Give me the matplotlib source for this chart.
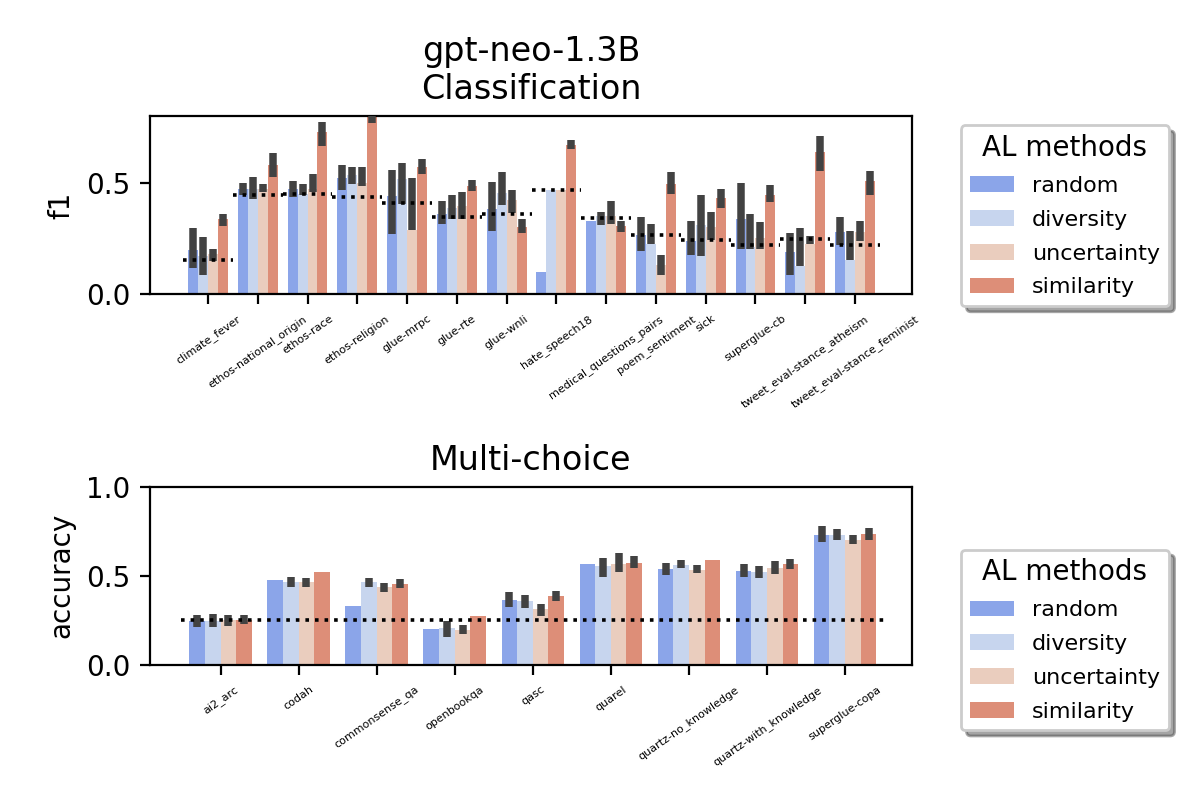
import numpy as np
import matplotlib
matplotlib.use("Agg")
import matplotlib.pyplot as plt
import seaborn as sns

methods = ["random", "diversity", "uncertainty", "similarity"]

cls_tasks = ["climate_fever", "ethos-national_origin", "ethos-race", "ethos-religion",
             "glue-mrpc", "glue-rte", "glue-wnli", "hate_speech18",
             "medical_questions_pairs", "poem_sentiment", "sick", "superglue-cb",
             "tweet_eval-stance_atheism", "tweet_eval-stance_feminist"]

# mean f1 per method
cls_random = [0.196, 0.473, 0.473, 0.522, 0.442, 0.360, 0.383, 0.098, 0.326, 0.263, 0.238, 0.335, 0.190, 0.280]
cls_diversity = [0.170, 0.470, 0.451, 0.536, 0.516, 0.387, 0.454, 0.469, 0.350, 0.226, 0.308, 0.210, 0.127, 0.155]
cls_uncertainty = [0.179, 0.473, 0.470, 0.500, 0.286, 0.397, 0.424, 0.469, 0.350, 0.129, 0.302, 0.251, 0.226, 0.278]
cls_similarity = [0.335, 0.580, 0.728, 0.800, 0.571, 0.487, 0.301, 0.670, 0.305, 0.496, 0.433, 0.446, 0.640, 0.506]

# confidence interval bounds (nan = none drawn)
nan = np.nan
cls_random_lo = [0.119, 0.446, 0.436, 0.467, 0.270, 0.315, 0.284, nan, nan, 0.193, 0.176, 0.204, 0.086, 0.219]
cls_random_hi = [0.298, 0.499, 0.507, 0.579, 0.558, 0.420, 0.503, nan, nan, 0.347, 0.330, 0.499, 0.275, 0.345]
cls_diversity_lo = [0.086, 0.427, 0.443, 0.494, 0.405, 0.338, 0.399, nan, 0.310, 0.226, 0.171, 0.204, 0.127, 0.155]
cls_diversity_hi = [0.258, 0.525, 0.494, 0.570, 0.588, 0.445, 0.548, nan, 0.369, 0.315, 0.445, 0.360, 0.295, 0.283]
cls_uncertainty_lo = [0.149, 0.458, 0.458, 0.485, 0.286, 0.339, 0.363, nan, 0.315, 0.086, 0.241, 0.204, 0.226, 0.238]
cls_uncertainty_hi = [0.204, 0.494, 0.539, 0.570, 0.521, 0.458, 0.467, nan, 0.420, 0.177, 0.369, 0.324, 0.260, 0.329]
cls_similarity_lo = [0.305, 0.524, 0.667, 0.770, 0.539, 0.464, 0.275, 0.650, 0.278, 0.449, 0.385, 0.414, 0.551, 0.443]
cls_similarity_hi = [0.360, 0.633, 0.775, 0.840, 0.607, 0.512, 0.338, 0.692, 0.330, 0.548, 0.472, 0.490, 0.708, 0.552]

cls_baseline = [0.153, 0.443, 0.448, 0.438, 0.408, 0.345, 0.359, 0.469, 0.341, 0.265, 0.242, 0.220, 0.247, 0.220]

mc_tasks = ["ai2_arc", "codah", "commonsense_qa", "openbookqa", "qasc", "quarel",
            "quartz-no_knowledge", "quartz-with_knowledge", "superglue-copa"]

mc_random = [0.247, 0.478, 0.331, 0.202, 0.365, 0.567, 0.539, 0.528, 0.730]
mc_diversity = [0.247, 0.466, 0.466, 0.208, 0.360, 0.556, 0.562, 0.522, 0.730]
mc_uncertainty = [0.250, 0.466, 0.438, 0.197, 0.315, 0.567, 0.534, 0.545, 0.702]
mc_similarity = [0.253, 0.522, 0.455, 0.272, 0.388, 0.573, 0.590, 0.567, 0.736]

mc_random_lo = [0.212, nan, nan, nan, 0.328, nan, 0.502, 0.492, 0.689]
mc_random_hi = [0.279, nan, nan, nan, 0.408, nan, 0.571, 0.565, 0.779]
mc_diversity_lo = [0.215, 0.440, 0.440, 0.159, 0.322, 0.492, 0.543, 0.487, 0.700]
mc_diversity_hi = [0.285, 0.493, 0.490, 0.247, 0.393, 0.599, 0.588, 0.556, 0.762]
mc_uncertainty_lo = [0.220, 0.440, 0.412, 0.172, 0.277, 0.524, 0.515, 0.509, 0.678]
mc_uncertainty_hi = [0.279, 0.487, 0.459, 0.223, 0.343, 0.627, 0.560, 0.584, 0.729]
mc_similarity_lo = [0.230, nan, 0.434, nan, 0.361, 0.543, nan, 0.537, 0.700]
mc_similarity_hi = [0.279, nan, 0.483, nan, 0.416, 0.610, nan, 0.594, 0.768]

mc_chance = 0.25

colors = [sns.desaturate(c, 0.75) for c in sns.color_palette("coolwarm", 4)]


def grouped_bars(ax, tasks, means, los, his):
    x = np.arange(len(tasks))
    w = 0.8 / len(means)
    for k, (m, lo, hi) in enumerate(zip(means, los, his)):
        m = np.array(m)
        pos = x - 0.4 + w * (k + 0.5)
        ax.bar(pos, m, width=w, color=colors[k], label=methods[k])
        lo = np.array(lo)
        hi = np.array(hi)
        ok = ~np.isnan(lo)
        mid = (lo[ok] + hi[ok]) / 2
        ax.errorbar(pos[ok], mid, yerr=(hi[ok] - lo[ok]) / 2, fmt="none",
                    ecolor="#424242", elinewidth=2.7, capsize=0, zorder=3)
    ax.set_xticks(x)
    ax.set_xticklabels(tasks, rotation=35, fontsize=4, ha="center")
    return x


fig = plt.figure(figsize=(6, 4), dpi=200)

ax1 = fig.add_axes([0.125, 0.6325, 0.6348, 0.2225])
x = grouped_bars(ax1, cls_tasks,
                 [cls_random, cls_diversity, cls_uncertainty, cls_similarity],
                 [cls_random_lo, cls_diversity_lo, cls_uncertainty_lo, cls_similarity_lo],
                 [cls_random_hi, cls_diversity_hi, cls_uncertainty_hi, cls_similarity_hi])
for i, b in enumerate(cls_baseline):
    ax1.plot([i - 0.5, i + 0.5], [b, b], ":", color="black", lw=1.3, zorder=4)
ax1.set_xlim(-1.165, 14.14)
ax1.set_ylim(0, 0.8)
ax1.set_yticks([0.0, 0.5])
ax1.set_ylabel("f1")
ax1.set_title("gpt-neo-1.3B\nClassification", fontsize=12)
ax1.legend(title="AL methods", fontsize=8, title_fontsize=10, shadow=True,
           labelspacing=0.62, loc="upper left", bbox_to_anchor=(1.05, 1.01))

ax2 = fig.add_axes([0.125, 0.16875, 0.6348, 0.2229])
x = grouped_bars(ax2, mc_tasks,
                 [mc_random, mc_diversity, mc_uncertainty, mc_similarity],
                 [mc_random_lo, mc_diversity_lo, mc_uncertainty_lo, mc_similarity_lo],
                 [mc_random_hi, mc_diversity_hi, mc_uncertainty_hi, mc_similarity_hi])
ax2.plot([-0.5, len(mc_tasks) - 0.5], [mc_chance, mc_chance], ":", color="black", lw=1.3, zorder=4)
ax2.set_xlim(-0.903, 8.854)
ax2.set_ylim(0, 1.0)
ax2.set_yticks([0.0, 0.5, 1.0])
ax2.set_ylabel("accuracy")
ax2.set_title("Multi-choice", fontsize=12)
ax2.legend(title="AL methods", fontsize=8, title_fontsize=10, shadow=True,
           labelspacing=0.62, loc="upper left", bbox_to_anchor=(1.05, 0.71))

fig.savefig("out.png", dpi=200)
